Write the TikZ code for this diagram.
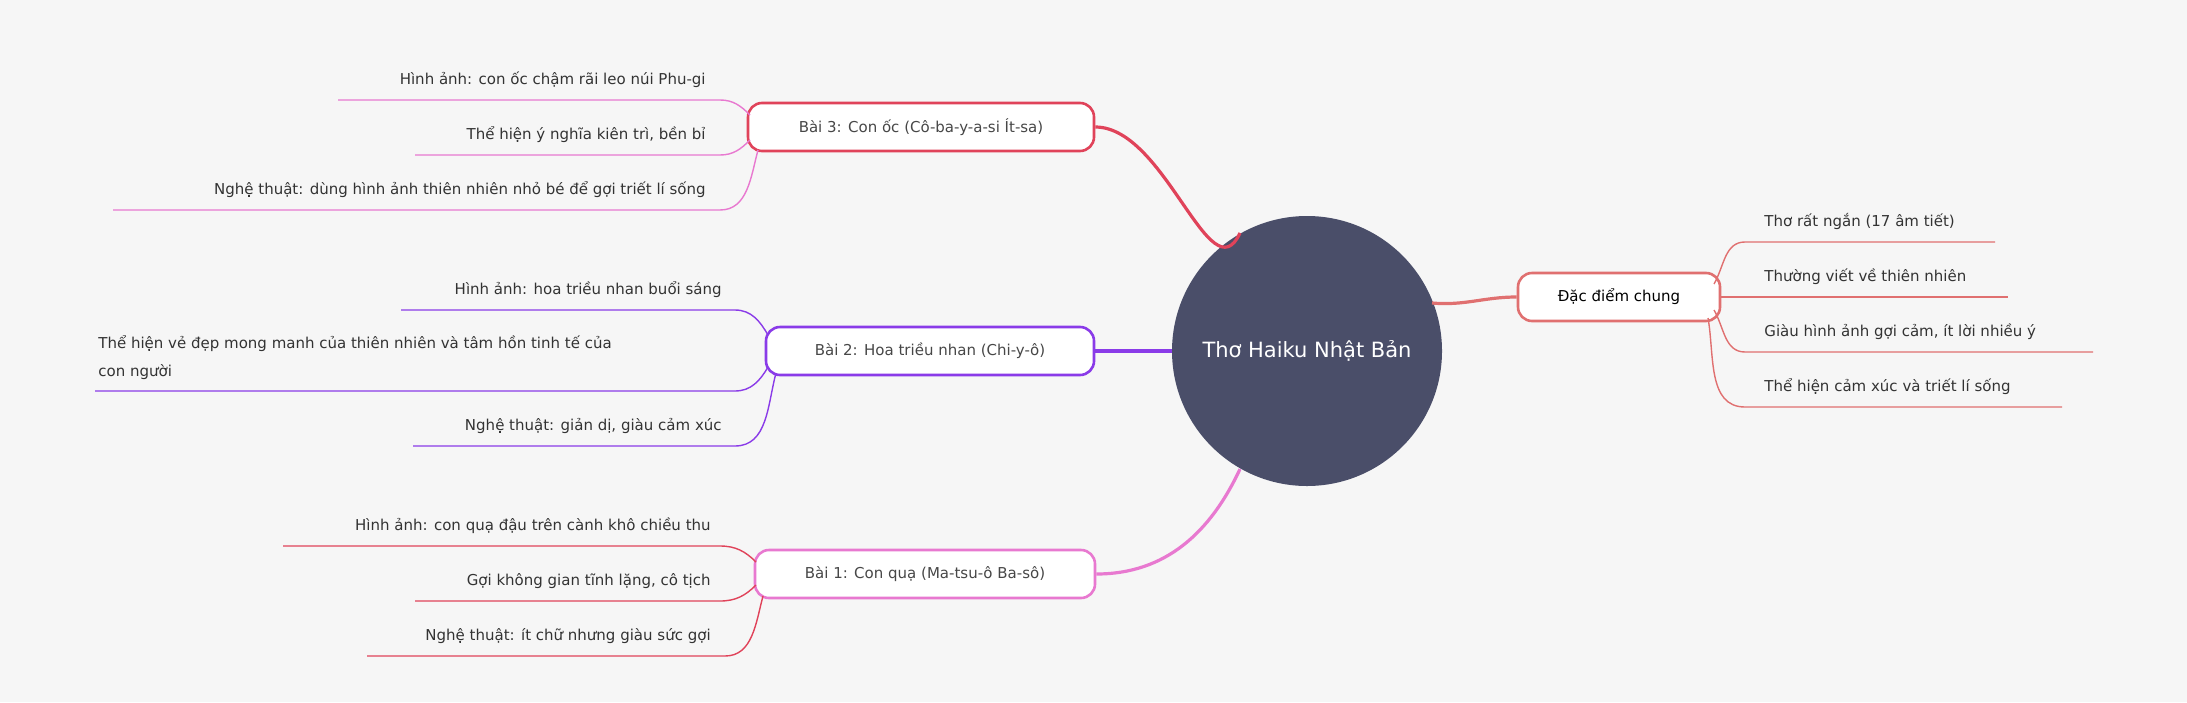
\documentclass[tikz,border=0pt]{standalone}
\usepackage{fontspec}
\setmainfont{DejaVu Sans}
\definecolor{bg}{HTML}{F6F6F6}
\definecolor{cen}{HTML}{4A4E69}
\definecolor{cred}{HTML}{E0435A}
\definecolor{cpur}{HTML}{8A3BE8}
\definecolor{cpink}{HTML}{E879D0}
\definecolor{csal}{HTML}{E07070}
\definecolor{txt}{HTML}{333333}
\begin{document}
\begin{tikzpicture}[x=0.5pt,y=-0.5pt,
  box/.style={draw,line width=1.3pt,fill=white,rounded corners=7pt,minimum height=24pt,font=\fontsize{7.5}{9}\selectfont,text=txt!90},
  leaf/.style={font=\fontsize{7.5}{9}\selectfont,text=txt,inner sep=0pt},
  lk/.style={line width=0.7pt},
  ck/.style={line width=1.6pt}]
\fill[bg] (0,0) rectangle (2187,702);
\useasboundingbox (0,0) rectangle (2187,702);
\node[circle,fill=cen,minimum size=135pt,inner sep=0pt,text=white,font=\fontsize{10.5}{12}\selectfont] (c) at (1307,351) {Thơ Haiku Nhật Bản};
% right
\node[box,draw=csal,minimum width=101pt,text=black] (r) at (1619,297) {Đặc điểm chung};
\draw[ck,csal] (1432,303) to[out=-5,in=180] (r.west);
\coordinate (r1) at (1745,242); \coordinate (r1e) at (1995,242);
\coordinate (r2) at (1745,297); \coordinate (r2e) at (2008,297);
\coordinate (r3) at (1745,352); \coordinate (r3e) at (2093,352);
\coordinate (r4) at (1745,407); \coordinate (r4e) at (2062,407);
\draw[lk,csal] (1714,284) to[out=60,in=180] (r1) -- (r1e);
\draw[lk,csal] (r.east) -- (r2e);
\draw[lk,csal] (1714,310) to[out=-60,in=180] (r3) -- (r3e);
\draw[lk,csal] (1708,318) to[out=-80,in=180] (r4) -- (r4e);
\node[leaf,anchor=base west] at (1764,226) {Thơ rất ngắn (17 âm tiết)};
\node[leaf,anchor=base west] at (1764,281) {Thường viết về thiên nhiên};
\node[leaf,anchor=base west] at (1764,336) {Giàu hình ảnh gợi cảm, ít lời nhiều ý};
\node[leaf,anchor=base west] at (1764,391) {Thể hiện cảm xúc và triết lí sống};
% Bai 3
\node[box,draw=cred,minimum width=173pt] (b3) at (921,127) {Bài 3: Con ốc (Cô-ba-y-a-si Ít-sa)};
\draw[ck,cred] (1240,233) to[out=-115,in=0] (b3.east);
\coordinate (a1) at (720,100); \coordinate (a2) at (720,155); \coordinate (a3) at (720,210);
\draw[lk,cpink] (750,115) to[out=135,in=0] (a1) -- (338,100);
\draw[lk,cpink] (750,140) to[out=-135,in=0] (a2) -- (415,155);
\draw[lk,cpink] (758,150) to[out=-105,in=0] (a3) -- (113,210);
\node[leaf,anchor=base east] at (706,84) {Hình ảnh: con ốc chậm rãi leo núi Phu-gi};
\node[leaf,anchor=base east] at (706,139) {Thể hiện ý nghĩa kiên trì, bền bỉ};
\node[leaf,anchor=base east] at (706,194) {Nghệ thuật: dùng hình ảnh thiên nhiên nhỏ bé để gợi triết lí sống};
% Bai 2
\node[box,draw=cpur,minimum width=164pt] (b2) at (930,351) {Bài 2: Hoa triều nhan (Chi-y-ô)};
\draw[ck,cpur] (c.west) -- (b2.east);
\coordinate (p1) at (735,310); \coordinate (p2) at (735,391); \coordinate (p3) at (735,446);
\draw[lk,cpur] (768,335) to[out=120,in=0] (p1) -- (401,310);
\draw[lk,cpur] (768,367) to[out=-120,in=0] (p2) -- (95,391);
\draw[lk,cpur] (776,373) to[out=-105,in=0] (p3) -- (413,446);
\node[leaf,anchor=base east] at (722,294) {Hình ảnh: hoa triều nhan buổi sáng};
\node[leaf,anchor=base west] at (98,348) {Thể hiện vẻ đẹp mong manh của thiên nhiên và tâm hồn tinh tế của};
\node[leaf,anchor=base west] at (98,376) {con người};
\node[leaf,anchor=base east] at (722,430) {Nghệ thuật: giản dị, giàu cảm xúc};
% Bai 1
\node[box,draw=cpink,minimum width=170pt] (b1) at (925,574) {Bài 1: Con quạ (Ma-tsu-ô Ba-sô)};
\draw[ck,cpink] (1240,469) to[out=-115,in=0] (b1.east);
\coordinate (q1) at (720,546); \coordinate (q2) at (720,601); \coordinate (q3) at (725,656);
\draw[lk,cred] (756,562) to[out=135,in=0] (q1) -- (283,546);
\draw[lk,cred] (756,585) to[out=-135,in=0] (q2) -- (415,601);
\draw[lk,cred] (763,596) to[out=-105,in=0] (q3) -- (367,656);
\node[leaf,anchor=base east] at (711,530) {Hình ảnh: con quạ đậu trên cành khô chiều thu};
\node[leaf,anchor=base east] at (711,585) {Gợi không gian tĩnh lặng, cô tịch};
\node[leaf,anchor=base east] at (711,640) {Nghệ thuật: ít chữ nhưng giàu sức gợi};
\end{tikzpicture}
\end{document}
